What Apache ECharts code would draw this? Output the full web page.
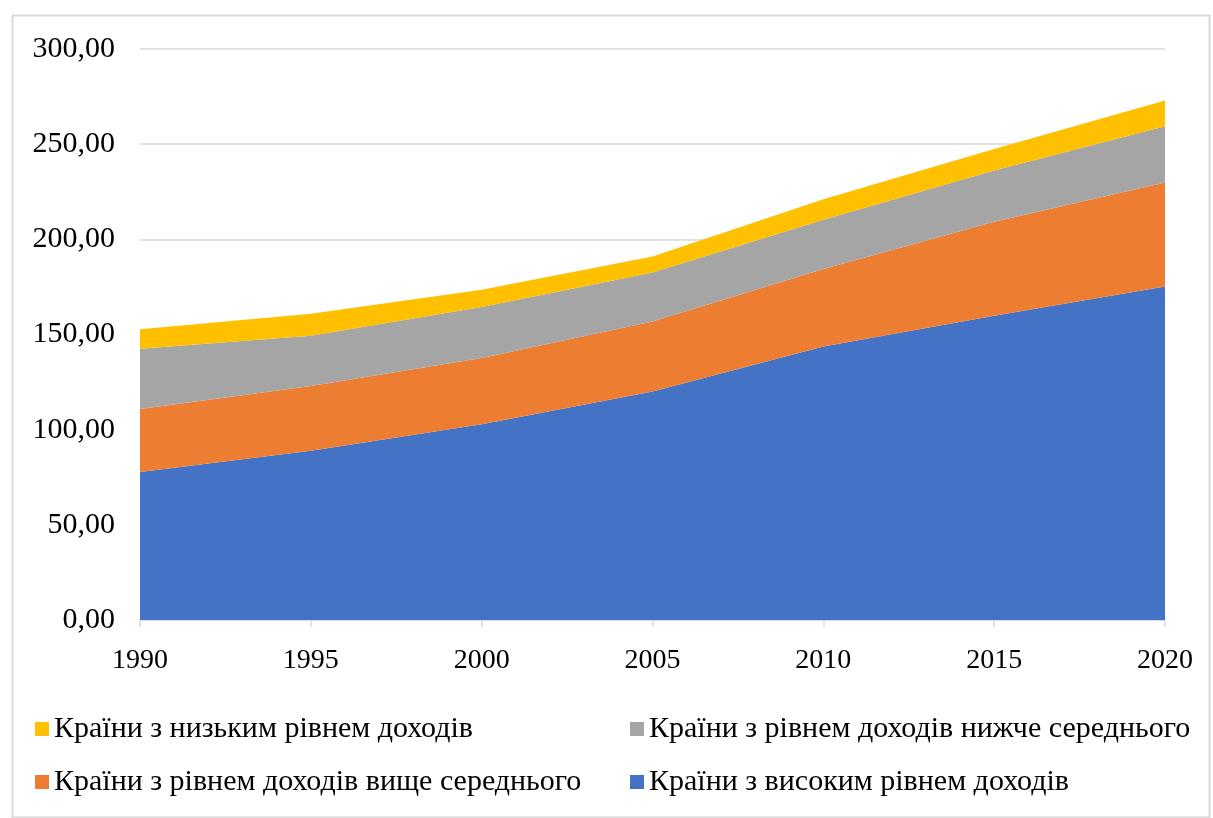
<!DOCTYPE html>
<html>
<head>
<meta charset="utf-8">
<script src="https://cdn.jsdelivr.net/npm/echarts@6/dist/echarts.min.js"></script>
<style>
html,body{margin:0;padding:0;background:#fff;}
#chart{width:1213px;height:818px;}
</style>
</head>
<body>
<div id="chart"></div>
<script>
const years = ['1990','1995','2000','2005','2010','2015','2020'];
const seriesNames = [
  'Країни з високим рівнем доходів',
  'Країни з рівнем доходів вище середнього',
  'Країни з рівнем доходів нижче середнього',
  'Країни з низьким рівнем доходів'
];
const highIncome = [77.8, 88.9, 102.9, 120.0, 143.7, 159.8, 175.2];
const upperMiddle = [33.0, 34.1, 34.7, 36.8, 40.7, 49.5, 54.7];
const lowerMiddle = [31.7, 26.3, 26.8, 25.8, 25.9, 26.8, 29.5];
const lowIncome = [10.3, 11.6, 9.1, 8.4, 10.8, 11.3, 13.6];
const colors = ['#4472C4', '#ED7D31', '#A5A5A5', '#FFC000'];

const font = '"Liberation Serif", "Times New Roman", serif';
const chart = echarts.init(document.getElementById('chart'));

function mkSeries(name, data, color) {
  return {
    name: name, type: 'line', stack: 'total', data: data,
    symbol: 'none', smooth: false,
    lineStyle: {width: 0, opacity: 0},
    itemStyle: {color: color},
    areaStyle: {color: color, opacity: 1},
    emphasis: {disabled: true}
  };
}

function mkLegend(name, left, top) {
  return {
    data: [name], left: left, top: top, orient: 'horizontal',
    icon: 'rect', itemWidth: 14, itemHeight: 14, itemGap: 0,
    textStyle: {fontFamily: font, fontSize: 30, color: '#000', padding: [0,0,0,0]},
    selectedMode: false
  };
}

chart.setOption({
  animation: false,
  backgroundColor: '#fff',
  graphic: [{
    type: 'rect', left: 10, top: 13,
    shape: {width: 1197, height: 802},
    style: {fill: 'none', stroke: '#d9d9d9', lineWidth: 2}, silent: true, z: -1
  }],
  grid: {left: 140, right: 48, top: 49, bottom: 198, containLabel: false},
  legend: [
    mkLegend(seriesNames[3], 30, 709),
    mkLegend(seriesNames[2], 625, 709),
    mkLegend(seriesNames[1], 30, 762),
    mkLegend(seriesNames[0], 625, 762)
  ],
  xAxis: {
    type: 'category', data: years, boundaryGap: false,
    axisLine: {lineStyle: {color: '#d9d9d9', width: 1.5}},
    axisTick: {show: true, length: 7, lineStyle: {color: '#d9d9d9', width: 1.5}},
    axisLabel: {fontFamily: font, fontSize: 28, color: '#000', margin: 27}
  },
  yAxis: {
    type: 'value', min: 0, max: 300, interval: 50,
    axisLine: {show: false}, axisTick: {show: false},
    splitLine: {lineStyle: {color: '#d9d9d9', width: 1.5}},
    axisLabel: {
      fontFamily: font, fontSize: 30, color: '#000', margin: 25,
      formatter: v => v.toFixed(2).replace('.', ',')
    }
  },
  series: [
    mkSeries(seriesNames[0], highIncome, colors[0]),
    mkSeries(seriesNames[1], upperMiddle, colors[1]),
    mkSeries(seriesNames[2], lowerMiddle, colors[2]),
    mkSeries(seriesNames[3], lowIncome, colors[3])
  ]
});
</script>
</body>
</html>
